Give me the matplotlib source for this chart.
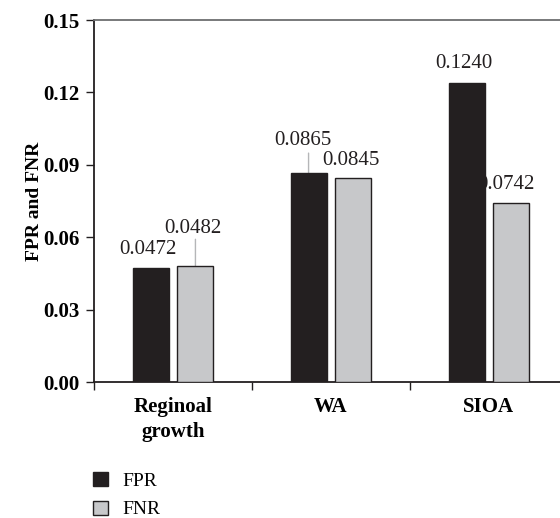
import numpy as np
import matplotlib
matplotlib.use("Agg")
import matplotlib.pyplot as plt

plt.rcParams["font.family"] = ["Liberation Serif", "DejaVu Serif"]

# datos
grupos = ["Reginoal\ngrowth", "WA", "SIOA"]
fpr = [0.0472, 0.0865, 0.1240]
fnr = [0.0482, 0.0845, 0.0742]
series = ["FPR", "FNR"]

col_fpr = "#231f20"
col_fnr = "#c7c8ca"
col_borde = "#231f20"

# desplazamiento de cada etiqueta (puntos) y largo de la linea guia (0 = sin linea)
off_fpr = [(-2, 13.5, 0), (-4, 23.5, 14.5), (-2, 13.5, 0)]
off_fnr = [(-2, 26.5, 19), (-1.5, 13, 0), (-4, 13, 0)]

fig = plt.figure(figsize=(5.6, 5.18), dpi=100)
ax = fig.add_axes([94 / 560, 1 - 382 / 518, 474 / 560, 362 / 518])

x = np.arange(len(grupos)) + 0.5
ancho = 0.228
desp = 0.142

b1 = ax.bar(x - desp, fpr, ancho, color=col_fpr, edgecolor=col_borde,
            linewidth=1.0, label=series[0], zorder=3)
b2 = ax.bar(x + desp, fnr, ancho, color=col_fnr, edgecolor=col_borde,
            linewidth=1.0, label=series[1], zorder=3)

# etiquetas de valor
for barras, vals, offs in [(b1, fpr, off_fpr), (b2, fnr, off_fnr)]:
    for rect, v, (dx, dy, guia) in zip(barras, vals, offs):
        cx = rect.get_x() + rect.get_width() / 2
        if guia > 0:
            # linea guia vertical desde el borde superior de la barra
            ax.annotate("", xy=(cx, v), xytext=(0, guia),
                        textcoords="offset points",
                        arrowprops=dict(arrowstyle="-", color="#b5b6b8",
                                        lw=1.0, shrinkA=0, shrinkB=0),
                        zorder=2)
        ax.annotate("%.4f" % v, xy=(cx, v), xytext=(dx, dy),
                    textcoords="offset points", ha="center", va="center",
                    fontsize=15, color="#231f20", zorder=1)

ax.set_xlim(0, 3)
ax.set_ylim(0, 0.15)
ax.set_yticks([0.0, 0.03, 0.06, 0.09, 0.12, 0.15])
ax.set_yticklabels(["0.00", "0.03", "0.06", "0.09", "0.12", "0.15"],
                   fontsize=15, fontweight="bold")
ax.set_xticks([0, 1, 2, 3])
ax.set_xticklabels([])
ax.set_xticks(x, minor=True)
ax.set_xticklabels(grupos, minor=True, fontsize=15, fontweight="bold",
                   linespacing=1.3)
ax.tick_params(axis="x", which="minor", length=0, pad=11)
ax.tick_params(axis="both", which="major", direction="out", length=5.5,
               width=1.0, color=col_borde)
ax.tick_params(axis="y", pad=5)

ax.set_ylabel("FPR and FNR", fontsize=14, fontweight="bold")
ax.yaxis.set_label_coords(-0.108, 0.5)

ax.spines["right"].set_visible(False)
ax.spines["left"].set_color(col_borde)
ax.spines["bottom"].set_color(col_borde)
ax.spines["top"].set_color("#6d6e70")
for s in ["left", "bottom", "top"]:
    ax.spines[s].set_linewidth(1.3)

fig.legend(handles=[b1, b2], labels=series, loc="upper left",
           bbox_to_anchor=(93 / 560, 1 - 472 / 518), frameon=False,
           fontsize=14, borderpad=0, borderaxespad=0, handlelength=0.75,
           handleheight=0.75, handletextpad=0.75, labelspacing=0.55)

fig.savefig("out.png", dpi=100)
